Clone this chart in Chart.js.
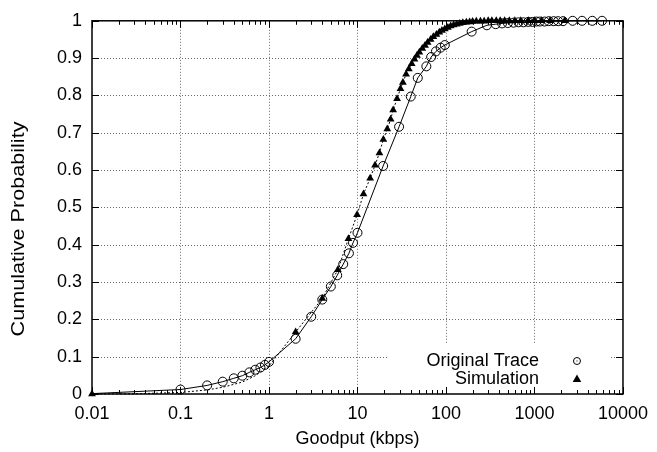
<!DOCTYPE html>
<html>
<head>
<meta charset="utf-8">
<script src="https://cdn.jsdelivr.net/npm/chart.js@4"></script>
<style>
  html, body { margin: 0; padding: 0; background: #fff; }
</style>
</head>
<body>
<canvas id="cdf" width="657" height="452"></canvas>
<script>
// Goodput CDF, original trace vs simulation, gnuplot look

const xTickValues = [0.01, 0.1, 1, 10, 100, 1000, 10000];
const xTickLabels = ['0.01', '0.1', '1', '10', '100', '1000', '10000'];
const yTickValues = [0, 0.1, 0.2, 0.3, 0.4, 0.5, 0.6, 0.7, 0.8, 0.9, 1];
const yTickLabels = ['0', '0.1', '0.2', '0.3', '0.4', '0.5', '0.6', '0.7', '0.8', '0.9', '1'];
const seriesNames = ['Original Trace', 'Simulation'];
const yTitle = 'Cumulative Probability';

const origX = [0.01, 0.1, 0.2, 0.3, 0.4, 0.5, 0.6, 0.7, 0.8, 0.9, 1.0, 2.0, 3.0, 4.0, 5.0, 5.9, 6.9, 8.0, 8.9, 10,
  19.5, 29.5, 40, 48, 60, 68, 77, 87, 97, 195, 290, 365, 430, 500, 580, 660, 750, 850, 950, 1050,
  1150, 1300, 1450, 1650, 1850, 2100, 2700, 3450, 4500, 5800];
const origY = [0.001, 0.012, 0.023, 0.033, 0.042, 0.049, 0.058, 0.065, 0.071, 0.078, 0.086, 0.148, 0.207, 0.253, 0.288, 0.318, 0.348, 0.377, 0.405, 0.432,
  0.611, 0.716, 0.797, 0.847, 0.878, 0.903, 0.918, 0.928, 0.935, 0.971, 0.988, 0.991, 0.993, 0.994, 0.995, 0.996, 0.996, 0.997, 0.997, 0.998,
  0.998, 0.998, 0.999, 0.999, 0.999, 0.999, 1, 1, 1, 1];

const simX = [0.01, 0.03, 0.1, 0.2, 0.3, 0.5, 0.7, 1.0, 2.0, 4.0, 6.0, 7.9, 9.9, 11.7, 13.9, 15.8, 17.7, 19.6, 21.7, 23.7,
  25.3, 28, 30.6, 32.6, 35.4, 38, 41, 44, 47, 50, 54, 58, 62, 67, 72, 78, 84, 90, 97, 105,
  113, 122, 132, 143, 155, 170, 185, 200, 220, 245, 270, 300, 330, 370, 410, 460, 520, 600, 700, 850,
  1000, 1200, 1500, 2200];
const simY = [0, 0.0005, 0.004, 0.011, 0.018, 0.032, 0.049, 0.075, 0.166, 0.256, 0.333, 0.416, 0.48, 0.536, 0.578, 0.613, 0.646, 0.682, 0.710, 0.736,
  0.761, 0.791, 0.818, 0.835, 0.857, 0.871, 0.885, 0.897, 0.907, 0.916, 0.926, 0.934, 0.942, 0.950, 0.957, 0.963, 0.969, 0.974, 0.978, 0.982,
  0.986, 0.989, 0.991, 0.993, 0.995, 0.996, 0.997, 0.998, 0.999, 0.999, 0.999, 1, 1, 1, 1, 1, 1, 1, 1, 1,
  1, 1, 1, 1];

const FONT = '"Liberation Sans", Arial, Helvetica, sans-serif';

function drawCircle(ctx, x, y, r) {
  ctx.beginPath();
  ctx.arc(x, y, r, 0, Math.PI * 2);
  ctx.stroke();
  ctx.fillRect(x - 0.5, y - 0.5, 1, 1);
}

function drawTriangle(ctx, x, y, r) {
  ctx.beginPath();
  ctx.moveTo(x, y - r);
  ctx.lineTo(x + r * 0.95, y + r * 0.65);
  ctx.lineTo(x - r * 0.95, y + r * 0.65);
  ctx.closePath();
  ctx.fill();
}

// grid, key, border and inward ticks like gnuplot
const gnuplotFrame = {
  id: 'gnuplotFrame',
  beforeDatasetsDraw(chart) {
    const { ctx, chartArea: a, scales: { x, y } } = chart;
    ctx.save();
    ctx.strokeStyle = '#6a6a6a';
    ctx.lineWidth = 1;
    ctx.setLineDash([1, 2]);
    xTickValues.slice(1, -1).forEach(v => {
      const px = Math.round(x.getPixelForValue(v)) + 0.5;
      ctx.beginPath(); ctx.moveTo(px, a.top); ctx.lineTo(px, a.bottom); ctx.stroke();
    });
    yTickValues.slice(1, -1).forEach(v => {
      const py = Math.round(y.getPixelForValue(v)) + 0.5;
      ctx.beginPath(); ctx.moveTo(a.left, py); ctx.lineTo(a.right, py); ctx.stroke();
    });
    ctx.restore();
  },
  afterDatasetsDraw(chart) {
    const { ctx, chartArea: a, scales: { x, y } } = chart;
    ctx.save();

    // key, opaque
    ctx.fillStyle = '#fff';
    ctx.fillRect(a.right - 236, a.bottom - 51, 222, 50);
    ctx.fillStyle = '#000';
    ctx.strokeStyle = '#000';
    ctx.lineWidth = 1;
    ctx.font = '18px ' + FONT;
    ctx.textAlign = 'right';
    ctx.textBaseline = 'middle';
    ctx.fillText(seriesNames[0], a.right - 84, a.bottom - 33);
    ctx.fillText(seriesNames[1], a.right - 84, a.bottom - 15);
    drawCircle(ctx, a.right - 46, a.bottom - 33, 3.5);
    drawTriangle(ctx, a.right - 46, a.bottom - 15, 4.5);

    // y title, a bit stretched like the original
    ctx.save();
    ctx.translate(19, 229);
    ctx.rotate(-Math.PI / 2);
    ctx.scale(1.2, 1);
    ctx.textAlign = 'center';
    ctx.fillText(yTitle, 0, 0);
    ctx.restore();

    // ticks
    ctx.lineWidth = 1;
    xTickValues.forEach((v, i) => {
      const px = Math.round(x.getPixelForValue(v)) + 0.5;
      ctx.beginPath();
      ctx.moveTo(px, a.bottom); ctx.lineTo(px, a.bottom - 7);
      ctx.moveTo(px, a.top); ctx.lineTo(px, a.top + 7);
      ctx.stroke();
      if (i < xTickValues.length - 1) {
        for (let m = 2; m <= 9; m++) {
          const mx = Math.round(x.getPixelForValue(v * m)) + 0.5;
          ctx.beginPath();
          ctx.moveTo(mx, a.bottom); ctx.lineTo(mx, a.bottom - 4);
          ctx.moveTo(mx, a.top); ctx.lineTo(mx, a.top + 4);
          ctx.stroke();
        }
      }
    });
    yTickValues.forEach(v => {
      const py = Math.round(y.getPixelForValue(v)) + 0.5;
      ctx.beginPath();
      ctx.moveTo(a.left, py); ctx.lineTo(a.left + 7, py);
      ctx.moveTo(a.right, py); ctx.lineTo(a.right - 7, py);
      ctx.stroke();
    });

    ctx.lineWidth = 1.5;
    ctx.strokeRect(a.left, a.top, a.right - a.left, a.bottom - a.top);
    ctx.restore();
  }
};

Chart.defaults.color = '#000';
Chart.defaults.font.family = FONT;
Chart.defaults.font.size = 18;

const ctx = document.getElementById('cdf').getContext('2d');
new Chart(ctx, {
  type: 'scatter',
  data: {
    datasets: [
      {
        label: seriesNames[0],
        data: origX.map((v, i) => ({ x: v, y: origY[i] })),
        showLine: true,
        clip: 8,
        borderColor: '#000',
        borderWidth: 1,
        backgroundColor: 'rgba(0,0,0,0)',
        pointStyle: 'circle',
        pointRadius: c => (c.dataIndex === 0 ? 0 : 4.5),
        pointBorderWidth: 1,
        pointBorderColor: '#000',
        pointBackgroundColor: 'rgba(0,0,0,0)',
        order: 2
      },
      {
        label: seriesNames[1],
        data: simX.map((v, i) => ({ x: v, y: simY[i] })),
        showLine: true,
        clip: 8,
        borderColor: '#000',
        borderWidth: 1,
        borderDash: [2, 2],
        pointStyle: 'triangle',
        pointRadius: c => (c.dataIndex > 0 && simX[c.dataIndex] <= 1 ? 0 : 4.5),
        pointBorderWidth: 0,
        pointBackgroundColor: '#000',
        backgroundColor: '#000',
        order: 1
      }
    ]
  },
  options: {
    responsive: false,
    animation: false,
    devicePixelRatio: 1,
    layout: { padding: { top: 11, right: 29, left: 0, bottom: 0 } },
    plugins: {
      legend: { display: false },
      tooltip: { enabled: false }
    },
    scales: {
      x: {
        type: 'logarithmic',
        min: 0.01,
        max: 10000,
        grid: { display: false, drawTicks: false },
        border: { display: false },
        afterBuildTicks: s => { s.ticks = xTickValues.map(v => ({ value: v })); },
        afterFit: s => { s.height = 58; },
        ticks: {
          padding: 9,
          maxRotation: 0,
          autoSkip: false,
          callback: (v, i) => xTickLabels[i]
        },
        title: {
          display: true,
          text: 'Goodput (kbps)',
          font: { size: 18 },
          padding: { top: 0, bottom: 2 }
        }
      },
      y: {
        min: 0,
        max: 1,
        grid: { display: false, drawTicks: false },
        border: { display: false },
        afterBuildTicks: s => { s.ticks = yTickValues.map(v => ({ value: v })); },
        afterFit: s => { s.width = 92; },
        ticks: {
          padding: 10,
          autoSkip: false,
          callback: (v, i) => yTickLabels[i]
        },
        title: { display: false }
      }
    }
  },
  plugins: [gnuplotFrame]
});
</script>
</body>
</html>
